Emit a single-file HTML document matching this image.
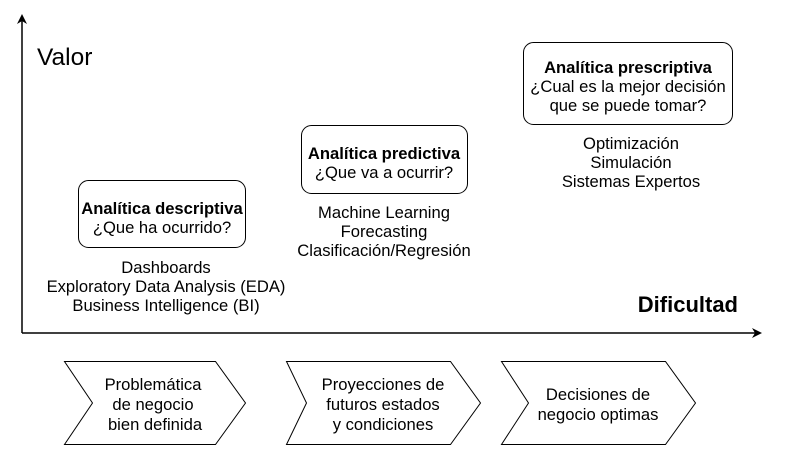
<!DOCTYPE html>
<html><head><meta charset="utf-8"><style>
html,body{margin:0;padding:0;background:#fff;}
svg{display:block;font-family:"Liberation Sans",Arial,sans-serif;}
</style></head><body>
<svg width="786" height="462" viewBox="0 0 786 462" xmlns="http://www.w3.org/2000/svg">
<defs><marker id="a" markerWidth="10" markerHeight="10" refX="8" refY="5" orient="auto" markerUnits="userSpaceOnUse"><path d="M0,0 L10,5 L0,10 L3,5 Z" fill="#000"/></marker></defs>
<g stroke="#000" stroke-width="1.5" fill="none">
<path d="M22,333 L22,16" marker-end="url(#a)"/>
<path d="M22,333 L760,333" marker-end="url(#a)"/>
</g>
<text x="37" y="65" font-size="24.5">Valor</text>
<text x="738" y="312" font-size="22" font-weight="bold" text-anchor="end">Dificultad</text>
<g fill="#fff" stroke="#000" stroke-width="1">
<rect x="78.5" y="180.5" width="167" height="67" rx="10"/>
<rect x="301.5" y="125.5" width="166" height="68" rx="10"/>
<rect x="523.5" y="42.5" width="209" height="82" rx="10"/>
</g>
<g font-size="16.6" text-anchor="middle" fill="#000">
<text x="162" y="214" font-weight="bold">Analítica descriptiva</text>
<text x="162" y="233">¿Que ha ocurrido?</text>
<text x="166" y="273">Dashboards</text>
<text x="166" y="292">Exploratory Data Analysis (EDA)</text>
<text x="166" y="311">Business Intelligence (BI)</text>
<text x="384" y="159" font-weight="bold">Analítica predictiva</text>
<text x="384" y="178">¿Que va a ocurrir?</text>
<text x="384" y="218">Machine Learning</text>
<text x="384" y="237">Forecasting</text>
<text x="384" y="256">Clasificación/Regresión</text>
<text x="628" y="73" font-weight="bold">Analítica prescriptiva</text>
<text x="628" y="92">¿Cual es la mejor decisión</text>
<text x="628" y="111">que se puede tomar?</text>
<text x="631" y="149">Optimización</text>
<text x="631" y="168">Simulación</text>
<text x="631" y="187">Sistemas Expertos</text>
</g>
<g fill="#fff" stroke="#000" stroke-width="1">
<path d="M64.5,361.5 L215.5,361.5 L245.5,403 L215.5,444.5 L64.5,444.5 L92.5,403 Z"/>
<path d="M286.5,361.5 L450.5,361.5 L480.5,403 L450.5,444.5 L286.5,444.5 L306.5,403 Z"/>
<path d="M501.5,361.5 L665.5,361.5 L695.5,403 L665.5,444.5 L501.5,444.5 L528.5,403 Z"/>
</g>
<g font-size="16.6" text-anchor="middle" fill="#000">
<text x="153" y="390">Problemática</text>
<text x="153" y="410">de negocio</text>
<text x="155" y="430">bien definida</text>
<text x="383" y="390">Proyecciones de</text>
<text x="383" y="410">futuros estados</text>
<text x="383" y="430">y condiciones</text>
<text x="598" y="400">Decisiones de</text>
<text x="598" y="420">negocio optimas</text>
</g>
</svg>
</body></html>
